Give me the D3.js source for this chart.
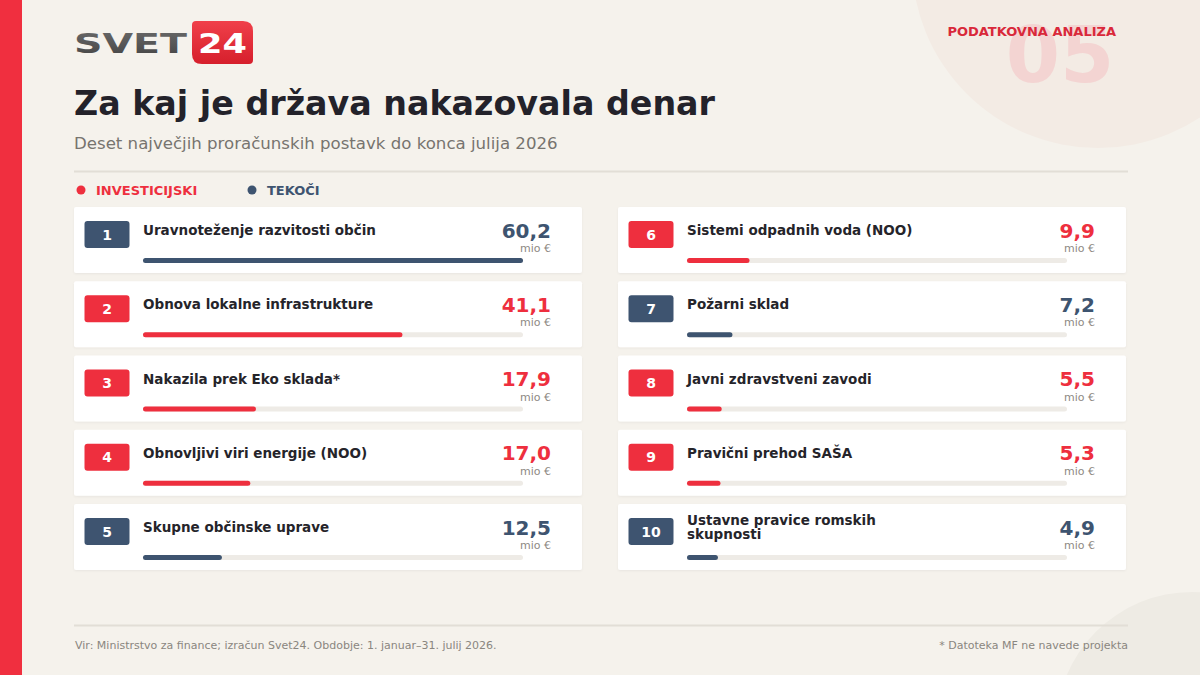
<!DOCTYPE html>
<html><head><meta charset="utf-8">
<script src="https://cdn.jsdelivr.net/npm/d3@7/dist/d3.min.js"></script>
<style>html,body{margin:0;padding:0;background:#f5f2ec;}svg{display:block;}</style>
</head><body>
<svg id="c" width="1200" height="675"></svg>
<script>
const ranks = [1,2,3,4,5,6,7,8,9,10];
const labels = ["Uravnoteženje razvitosti občin","Obnova lokalne infrastrukture","Nakazila prek Eko sklada*","Obnovljivi viri energije (NOO)","Skupne občinske uprave","Sistemi odpadnih voda (NOO)","Požarni sklad","Javni zdravstveni zavodi","Pravični prehod SAŠA","Ustavne pravice romskih|skupnosti"];
const values = [60.2,41.1,17.9,17.0,12.5,9.9,7.2,5.5,5.3,4.9];
const types = ["T","I","I","I","T","I","T","I","I","T"];
const legendLabels = ["INVESTICIJSKI","TEKOČI"];

const RED="#ee2f3e", BLUE="#3e5470";
const color = d3.scaleOrdinal().domain(["I","T"]).range([RED,BLUE]);
const svg = d3.select("#c");
const F = "'DejaVu Sans', sans-serif";

svg.append("rect").attr("width",1200).attr("height",675).attr("fill","#f5f2ec");
svg.append("circle").attr("cx",1098).attr("cy",-38).attr("r",186).attr("fill","#f3ebe4");
svg.append("circle").attr("cx",1192).attr("cy",728).attr("r",136).attr("fill","#eeebe4");
svg.append("rect").attr("x",0).attr("y",0).attr("width",22).attr("height",675).attr("fill","#f02f3f");

// 05 decoration
svg.append("text").attr("x",1060).attr("y",82).attr("text-anchor","middle")
  .attr("font-family",F).attr("font-weight","bold").attr("font-size",78)
  .attr("fill","#f3d4d2").text("05");
svg.append("text").attr("x",1116).attr("y",36).attr("text-anchor","end")
  .attr("font-family",F).attr("font-weight","bold").attr("font-size",13)
  .attr("fill","#d9283a").text("PODATKOVNA ANALIZA");

// logo
const defs = svg.append("defs");
const g1 = defs.append("linearGradient").attr("id","lg").attr("x1",0).attr("y1",0).attr("x2",0).attr("y2",1);
g1.append("stop").attr("offset","0%").attr("stop-color","#6a6a6a");
g1.append("stop").attr("offset","100%").attr("stop-color","#444");
const g2 = defs.append("linearGradient").attr("id","rg").attr("x1",0).attr("y1",0).attr("x2",0).attr("y2",1);
g2.append("stop").attr("offset","0%").attr("stop-color","#f0404a");
g2.append("stop").attr("offset","100%").attr("stop-color","#d61f2c");
svg.append("text").attr("x",74).attr("y",53).attr("font-family",F).attr("font-weight","bold")
  .attr("font-size",27).attr("textLength",113).attr("lengthAdjust","spacingAndGlyphs")
  .attr("fill","url(#lg)").text("SVET");
svg.append("path").attr("d","M196,21 H243 Q253,21 253,31 V60 Q253,64 249,64 H202 Q192,64 192,54 V25 Q192,21 196,21 Z")
  .attr("fill","url(#rg)");
svg.append("text").attr("x",198).attr("y",52.5).attr("font-family",F).attr("font-weight","bold")
  .attr("font-size",26).attr("textLength",49).attr("lengthAdjust","spacingAndGlyphs")
  .attr("fill","#fff").text("24");

// titles
svg.append("text").attr("x",74).attr("y",115).attr("font-family",F).attr("font-weight","bold")
  .attr("font-size",33.3).attr("fill","#23222a").text("Za kaj je država nakazovala denar");
svg.append("text").attr("x",74).attr("y",149).attr("font-family",F)
  .attr("font-size",16.6).attr("fill","#77746f").text("Deset največjih proračunskih postavk do konca julija 2026");
svg.append("line").attr("x1",74).attr("x2",1128).attr("y1",171.5).attr("y2",171.5).attr("stroke","#e2ded6").attr("stroke-width",2);

// legend
const legX = [81,252];
legendLabels.forEach((l,i)=>{
  const c = color(["I","T"][i]);
  svg.append("circle").attr("cx",legX[i]).attr("cy",190).attr("r",4.5).attr("fill",c);
  svg.append("text").attr("x",legX[i]+15).attr("y",194.5).attr("font-family",F).attr("font-weight","bold")
    .attr("font-size",13).attr("fill",c).text(l);
});

// cards
const filt = defs.append("filter").attr("id","sh").attr("x","-5%").attr("y","-20%").attr("width","110%").attr("height","140%");
filt.append("feDropShadow").attr("dx",0).attr("dy",1).attr("stdDeviation",1).attr("flood-color","#000").attr("flood-opacity",0.05);

const colX = [74,618];
const rowY = d3.scaleLinear().domain([0,4]).range([207,504]);
const cardW = 508, cardH = 66;
const barScale = d3.scaleLinear().domain([0,d3.max(values)]).range([0,380]);

ranks.forEach((r,i)=>{
  const col = i<5?0:1, row = i%5;
  const x0 = colX[col], y0 = rowY(row);
  const g = svg.append("g").attr("transform",`translate(${x0},${y0})`);
  const c = color(types[i]);
  g.append("rect").attr("width",cardW).attr("height",cardH).attr("rx",2).attr("fill","#fff").attr("filter","url(#sh)");
  g.append("rect").attr("x",10.5).attr("y",14).attr("width",45).attr("height",27).attr("rx",3).attr("fill",c);
  g.append("text").attr("x",33).attr("y",32.5).attr("text-anchor","middle").attr("font-family",F).attr("font-weight","bold")
    .attr("font-size",14).attr("fill","#fff").text(r);
  const lines = labels[i].split("|");
  if(lines.length===1){
    g.append("text").attr("x",69).attr("y",28).attr("font-family",F).attr("font-weight","bold")
      .attr("font-size",13.5).attr("fill","#25242a").text(lines[0]);
  } else {
    lines.forEach((ln,k)=>{
      g.append("text").attr("x",69).attr("y",21+k*14).attr("font-family",F).attr("font-weight","bold")
        .attr("font-size",13.5).attr("fill","#25242a").text(ln);
    });
  }
  g.append("text").attr("x",477).attr("y",30.5).attr("text-anchor","end").attr("font-family",F).attr("font-weight","bold")
    .attr("font-size",20).attr("fill",c).text(d3.format(".1f")(values[i]).replace(".",","));
  g.append("text").attr("x",477).attr("y",45).attr("text-anchor","end").attr("font-family",F)
    .attr("font-size",11).attr("fill","#8e8a84").text("mio €");
  g.append("rect").attr("x",69).attr("y",51).attr("width",380).attr("height",5).attr("rx",2.5).attr("fill","#eeebe6");
  g.append("rect").attr("x",69).attr("y",51).attr("width",barScale(values[i])).attr("height",5).attr("rx",2.5).attr("fill",c);
});

// footer
svg.append("line").attr("x1",74).attr("x2",1128).attr("y1",625.5).attr("y2",625.5).attr("stroke","#e2ded6").attr("stroke-width",2);
svg.append("text").attr("x",75).attr("y",649).attr("font-family",F)
  .attr("font-size",11).attr("fill","#8a867f").text("Vir: Ministrstvo za finance; izračun Svet24. Obdobje: 1. januar–31. julij 2026.");
svg.append("text").attr("x",1128).attr("y",649).attr("text-anchor","end").attr("font-family",F)
  .attr("font-size",11).attr("fill","#8a867f").text("* Datoteka MF ne navede projekta");
</script>
</body></html>
